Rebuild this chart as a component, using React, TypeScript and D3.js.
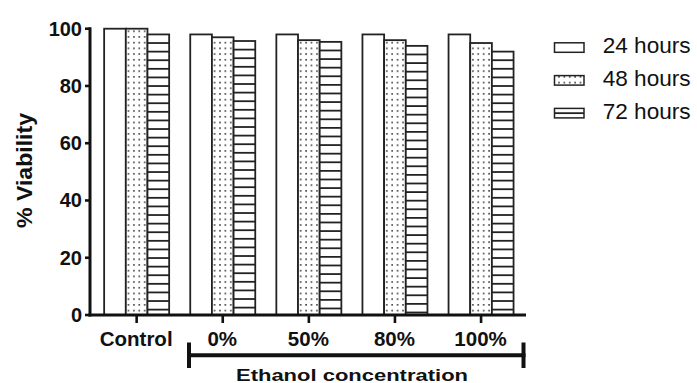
import React from "react";
import * as d3 from "d3";

const categories = ["Control", "0%", "50%", "80%", "100%"];
const seriesNames = ["24 hours", "48 hours", "72 hours"];
const values24 = [100, 98, 98, 98, 98];
const values48 = [100, 97, 96, 96, 95];
const values72 = [98, 95.7, 95.4, 94, 92];
const yTicks = [0, 20, 40, 60, 80, 100];

const W = 697;
const H = 383;
const FONT = "'Liberation Sans', Arial, Helvetica, sans-serif";
const INK = "#111";

export default function App() {
  const series = [values24, values48, values72];
  const y = d3.scaleLinear().domain([0, 100]).range([315, 28.7]);
  const x0 = d3
    .scaleBand<string>()
    .domain(categories)
    .range([93.6, 524.1])
    .paddingInner(0.245)
    .paddingOuter(0.1225);
  const x1 = d3
    .scaleBand<string>()
    .domain(seriesNames)
    .range([0, x0.bandwidth()]);

  const fills = ["#fff", "url(#dots)", "#fff"];

  const hatchLines = (top: number, bottom: number) =>
    d3.range(top + 8.6, bottom - 2, 8.6);

  return (
    <svg
      width={W}
      height={H}
      style={{ position: "absolute", left: 0, top: 0, background: "#fff" }}
      fontFamily={FONT}
    >
      <defs>
        <pattern id="dots" patternUnits="userSpaceOnUse" width={5.4} height={5.7}>
          <rect width={5.4} height={5.7} fill="#fff" />
          <rect x={2} y={2} width={1.5} height={1.5} fill="#222" />
        </pattern>
      </defs>

      {/* bars */}
      {categories.map((c, ci) => (
        <g key={c} transform={`translate(${x0(c)},0)`}>
          {seriesNames.map((s, si) => {
            const v = series[si][ci];
            const bx = x1(s)!;
            const top = y(v);
            const bottom = y(0);
            return (
              <g key={s}>
                <rect
                  x={bx}
                  y={top}
                  width={x1.bandwidth()}
                  height={bottom - top}
                  fill={fills[si]}
                  stroke="#222"
                  strokeWidth={1.8}
                />
                {si === 2 &&
                  hatchLines(top, bottom).map((ly, k) => (
                    <line
                      key={k}
                      x1={bx}
                      x2={bx + x1.bandwidth()}
                      y1={ly}
                      y2={ly}
                      stroke="#222"
                      strokeWidth={1.8}
                    />
                  ))}
              </g>
            );
          })}
        </g>
      ))}

      {/* y axis */}
      <line x1={90} x2={90} y1={y(100) - 1.5} y2={y(0) + 1.5} stroke={INK} strokeWidth={3} />
      {yTicks.map((t) => (
        <g key={t}>
          <line x1={85} x2={90} y1={y(t)} y2={y(t)} stroke={INK} strokeWidth={2.6} />
          <text
            x={82}
            y={y(t) + 7}
            textAnchor="end"
            fontSize={20}
            fontWeight="bold"
            fill={INK}
          >
            {t}
          </text>
        </g>
      ))}
      <text
        transform={`translate(32,${170.5}) rotate(-90)`}
        textAnchor="middle"
        fontSize={22}
        fontWeight="bold"
        fill={INK}
        textLength={115}
        lengthAdjust="spacingAndGlyphs"
      >
        % Viability
      </text>

      {/* x axis */}
      <line x1={88.5} x2={526} y1={y(0)} y2={y(0)} stroke={INK} strokeWidth={3.2} />
      {categories.map((c) => {
        const cx = x0(c)! + x0.bandwidth() / 2;
        return (
          <g key={c}>
            <line x1={cx} x2={cx} y1={y(0)} y2={y(0) + 8} stroke={INK} strokeWidth={2.6} />
            <text
              x={cx - 0.5}
              y={346}
              textAnchor="middle"
              fontSize={20.5}
              fontWeight="bold"
              fill={INK}
            >
              {c}
            </text>
          </g>
        );
      })}

      {/* bracket */}
      <line x1={187.5} x2={525.5} y1={355.3} y2={355.3} stroke={INK} strokeWidth={4} />
      <line x1={189} x2={189} y1={342.5} y2={368} stroke={INK} strokeWidth={4} />
      <line x1={523.5} x2={523.5} y1={342.5} y2={368} stroke={INK} strokeWidth={4} />
      <text
        x={352}
        y={380.7}
        textAnchor="middle"
        fontSize={16.5}
        fontWeight="bold"
        fill={INK}
        textLength={232}
        lengthAdjust="spacingAndGlyphs"
      >
        Ethanol concentration
      </text>

      {/* legend */}
      {seriesNames.map((s, i) => {
        const base = 53.3 + i * 32.8;
        return (
          <g key={s}>
            <rect
              x={554.5}
              y={base - 10.5}
              width={29.5}
              height={9.5}
              fill={fills[i]}
              stroke="#222"
              strokeWidth={1.5}
            />
            {i === 2 && (
              <line
                x1={554.5}
                x2={584}
                y1={base - 5.75}
                y2={base - 5.75}
                stroke="#222"
                strokeWidth={1.8}
              />
            )}
            <text x={602.7} y={base} fontSize={22} fill={INK} textLength={88} lengthAdjust="spacingAndGlyphs">
              {s}
            </text>
          </g>
        );
      })}
    </svg>
  );
}
